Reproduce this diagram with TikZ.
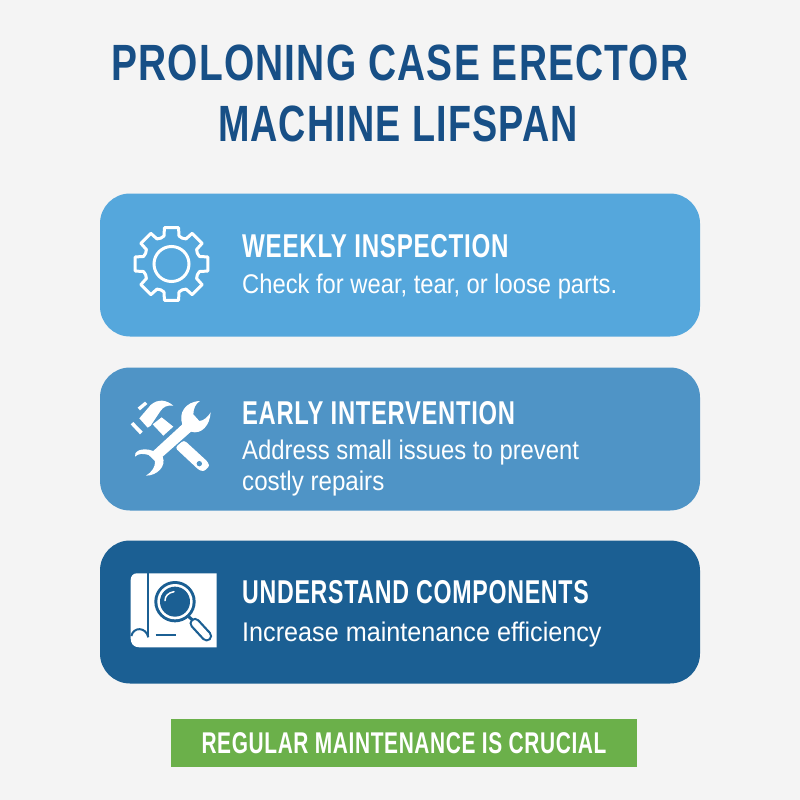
\documentclass[tikz,border=0pt]{standalone}
\usepackage{fontspec}
\usepackage{graphicx}
\setmainfont{Liberation Sans}
\definecolor{pagebg}{HTML}{F4F4F4}
\definecolor{titleblue}{HTML}{174F86}
\definecolor{cardA}{HTML}{55A7DC}
\definecolor{cardB}{HTML}{4F94C6}
\definecolor{cardC}{HTML}{1B5F93}
\definecolor{bandgreen}{HTML}{6BB04A}
\tikzset{
  cardbox/.style={rounded corners=30pt,minimum width=600pt,minimum height=143pt,inner sep=0pt,draw=none},
  headline/.style={text=titleblue,font=\fontsize{51}{51}\selectfont\bfseries\addfontfeatures{LetterSpace=3},inner sep=0pt,anchor=base},
  cardhead/.style={text=white,font=\fontsize{33}{33}\selectfont\bfseries\addfontfeatures{LetterSpace=3},inner sep=0pt,anchor=base west},
  cardtext/.style={text=white,font=\fontsize{27}{27}\selectfont,inner sep=0pt,anchor=base west},
}
\begin{document}
\begin{tikzpicture}[x=1pt,y=-1pt]
\useasboundingbox (0,0) rectangle (800,800);
\fill[pagebg] (0,0) rectangle (800,800);
\node[headline] (t1) at (400,81) {\scalebox{.763}[1]{PROLONING CASE ERECTOR}};
\node[headline] (t2) at (398,141) {\scalebox{.74}[1]{MACHINE LIFSPAN}};
\node[cardbox,fill=cardA] (c1) at (400,265) {};
\node[cardbox,fill=cardB] (c2) at (400,439) {};
\node[cardbox,fill=cardC] (c3) at (400,612) {};
\node[cardhead] (h1) at (242,257) {\scalebox{.732}[1]{WEEKLY INSPECTION}};
\node[cardtext] (b1) at (242,293) {\scalebox{.88}[1]{Check for wear, tear, or loose parts.}};
\node[cardhead] (h2) at (242,424) {\scalebox{.72}[1]{EARLY INTERVENTION}};
\node[cardtext] (b2a) at (242,459) {\scalebox{.884}[1]{Address small issues to prevent}};
\node[cardtext] (b2b) at (242,490) {\scalebox{.894}[1]{costly repairs}};
\node[cardhead] (h3) at (242,603) {\scalebox{.703}[1]{UNDERSTAND COMPONENTS}};
\node[cardtext] (b3) at (242,641) {\scalebox{.933}[1]{Increase maintenance efficiency}};
\node[fill=bandgreen,minimum width=466pt,minimum height=48pt,inner sep=0pt] (band) at (404,743) {};
\node[text=white,font=\fontsize{30}{30}\selectfont\bfseries\addfontfeatures{LetterSpace=3},inner sep=0pt,anchor=base] (bt) at (404,753) {\scalebox{.696}[1]{REGULAR MAINTENANCE IS CRUCIAL}};
% gear
\begin{scope}[shift={(171.5,264)}]
\draw[white,line width=3pt,line join=round]
  \foreach \a in {0,45,...,315}{
    \ifnum\a=0 (\a-11:37) \else -- (\a-11:37) \fi
    -- (\a+11:37) -- (\a+15:29) -- (\a+22.5:28) -- (\a+30:29)
  } -- cycle;
\draw[white,line width=3pt] (0,0) circle (17.5);
\end{scope}
% hammer and wrench
\begin{scope}[shift={(110,385)},x=0.3333pt,y=-0.3333pt]
\fill[white] (83,68) -- (105,50) -- (112,57) -- (90,76) -- cycle;
\fill[white] (62,118) -- (70,111) -- (98,140) -- (90,148) -- cycle;
\fill[white] (88,100) -- (122,60) .. controls (145,40) and (170,45) .. (190,62) .. controls (170,60) and (160,65) .. (150,80) -- (122,122) -- (113,128) -- cycle;
\fill[white] (128,118) -- (155,97) -- (190,125) -- (160,152) -- cycle;
\fill[white,rounded corners=3pt] (195,188) -- (222,165) -- (295,232) .. controls (298,245) and (285,258) .. (270,258) -- cycle;
\fill[cardB] (268,236) circle (8);
\fill[white] (270,48) .. controls (225,50) and (205,85) .. (217,118) -- (130,198) .. controls (95,185) and (70,200) .. (75,215)
  .. controls (85,205) and (100,205) .. (116,210) -- (135,228) .. controls (137,245) and (125,262) .. (108,272)
  .. controls (140,272) and (170,245) .. (158,215) -- (243,140) .. controls (275,150) and (300,120) .. (302,82)
  .. controls (295,95) and (280,108) .. (268,108) -- (250,88) .. controls (250,70) and (258,55) .. (270,48) -- cycle;
\end{scope}
% manual and magnifier
\begin{scope}[shift={(110,560)},x=0.3333pt,y=-0.3333pt]
\fill[white] (80,40) -- (320,40) -- (320,262) -- (88,262) .. controls (70,262) and (62,250) .. (62,235) -- (62,60) .. controls (62,48) and (70,40) .. (80,40) -- cycle;
\draw[cardC,line width=2pt] (115,40) -- (115,232);
\draw[cardC,line width=2pt] (64,228) .. controls (70,200) and (108,200) .. (115,232);
\draw[cardC,line width=2pt] (137,225) -- (198,225);
\fill[cardC] (195,125) circle (62);
\fill[white] (195,125) circle (53);
\fill[cardC] (195,125) circle (45);
\draw[white,line width=1.5pt,line cap=round] (165,122) .. controls (165,108) and (175,98) .. (192,95);
\draw[cardC,line width=3pt] (236,170) -- (250,182);
\draw[cardC,line width=11pt,line cap=round] (255,190) -- (290,228);
\draw[white,line width=6.5pt,line cap=round] (255,190) -- (290,228);
\end{scope}
\end{tikzpicture}
\end{document}
